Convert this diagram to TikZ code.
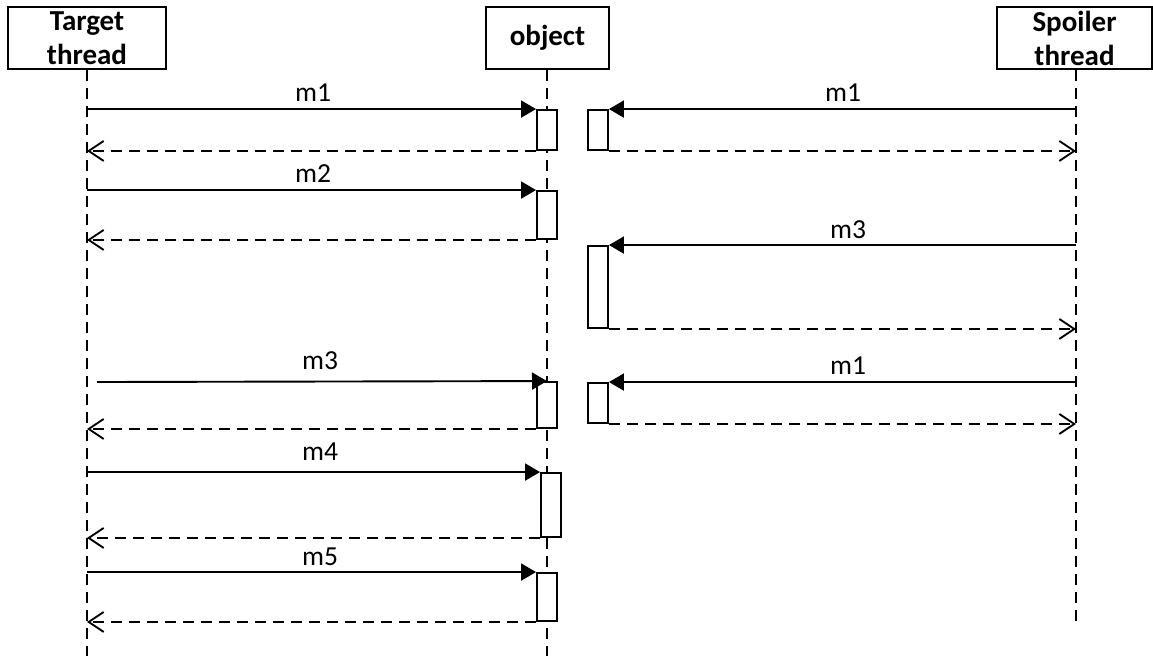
\documentclass[tikz,border=0pt]{standalone}
\usepackage{fontspec}
\setmainfont{Carlito}
\usetikzlibrary{arrows.meta}
\begin{document}
\begin{tikzpicture}[x=1pt,y=-1pt,
  header/.style={draw,line width=1.9pt,rectangle,minimum height=62pt,inner sep=0pt,align=center,
    font=\fontsize{29}{34}\selectfont\bfseries},
  lifeline/.style={line width=1.9pt,dash pattern=on 11pt off 7pt},
  act/.style={draw,line width=1.9pt,rectangle,fill=white,minimum width=20pt,inner sep=0pt},
  msg/.style={line width=1.9pt,-{Triangle[length=15pt,width=17pt]}},
  ret/.style={line width=1.9pt,dash pattern=on 11pt off 7pt,-{Straight Barb[length=15pt,width=20pt,line width=1.9pt]}},
  lbl/.style={anchor=base,inner sep=0pt,font=\fontsize{27.5}{30}\selectfont}]
\useasboundingbox (0,0) rectangle (1153,657);
% headers
\node[header,minimum width=158pt] (tgt) at (87,38) {Target\\thread};
\node[header,minimum width=123pt] (obj) at (547.5,38) {object};
\node[header,minimum width=155pt] (spl) at (1074.5,38) {Spoiler\\thread};
% lifeline ends
\coordinate (tgtEnd) at (87,656);
\coordinate (objEnd) at (547,656);
\coordinate (splEnd) at (1076,623);
\draw[lifeline] (tgt.south -| tgtEnd) -- (tgtEnd);
\draw[lifeline] (obj.south -| objEnd) -- (objEnd);
\draw[lifeline] (spl.south -| splEnd) -- (splEnd);
% activation boxes
\node[act,minimum height=40pt] (a1) at (547,130) {};
\node[act,minimum height=48pt] (a2) at (547,215) {};
\node[act,minimum height=46pt] (a3) at (547,405) {};
\node[act,minimum height=64pt] (a4) at (551,505) {};
\node[act,minimum height=48pt] (a5) at (547,597) {};
\node[act,minimum height=40pt] (s1) at (598,130) {};
\node[act,minimum height=82pt] (s2) at (598,287) {};
\node[act,minimum height=40pt] (s3) at (598,403) {};
\coordinate (m3start) at (97,382);
% target thread messages
\draw[msg] (a1.north west -| tgtEnd) -- (a1.north west);
\draw[ret] (a1.south west) -- (a1.south west -| tgtEnd);
\draw[msg] (a2.north west -| tgtEnd) -- (a2.north west);
\draw[ret] (a2.south west) -- (a2.south west -| tgtEnd);
\draw[msg] (m3start) -- (a3.north);
\draw[ret] (a3.south west) -- (a3.south west -| tgtEnd);
\draw[msg] (a4.north west -| tgtEnd) -- (a4.north west);
\draw[ret] (a4.south west) -- (a4.south west -| tgtEnd);
\draw[msg] (a5.north west -| tgtEnd) -- (a5.north west);
\draw[ret] (a5.south west) -- (a5.south west -| tgtEnd);
% spoiler thread messages
\draw[msg] (s1.north east -| splEnd) -- (s1.north east);
\draw[ret] (s1.south east) -- (s1.south east -| splEnd);
\draw[msg] (s2.north east -| splEnd) -- (s2.north east);
\draw[ret] (s2.south east) -- (s2.south east -| splEnd);
\draw[msg] (s3.north east -| splEnd) -- (s3.north east);
\draw[ret] (s3.south east) -- (s3.south east -| splEnd);
% labels
\node[lbl] (l1) at (313,101) {m1};
\node[lbl] (l2) at (313,182) {m2};
\node[lbl] (l3) at (320,369) {m3};
\node[lbl] (l4) at (320,460) {m4};
\node[lbl] (l5) at (320,565) {m5};
\node[lbl] (r1) at (843,101) {m1};
\node[lbl] (r2) at (848,238) {m3};
\node[lbl] (r3) at (848,374) {m1};
\end{tikzpicture}
\end{document}
